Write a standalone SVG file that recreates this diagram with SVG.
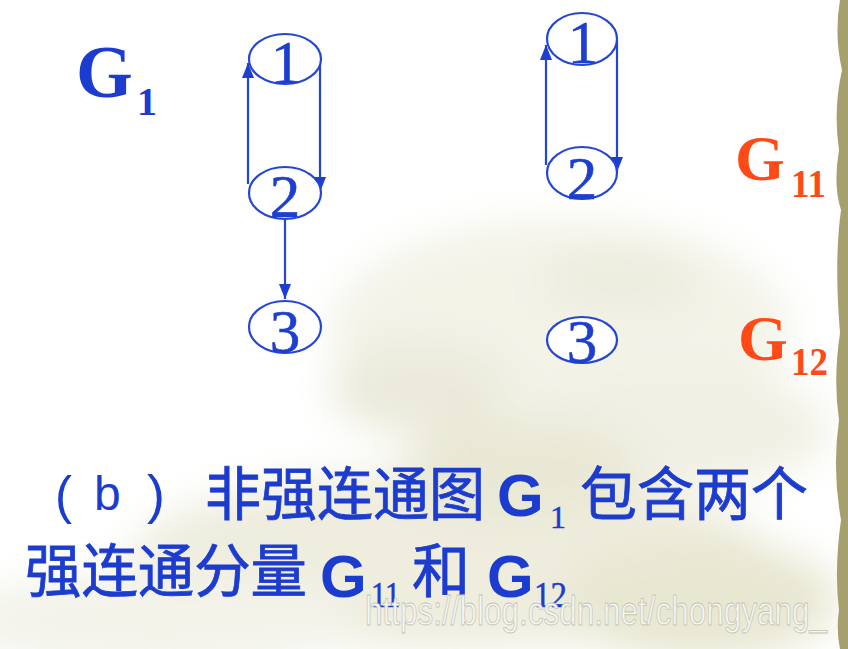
<svg xmlns="http://www.w3.org/2000/svg" width="848" height="649" viewBox="0 0 848 649">
<defs>
<style>
.node ellipse{fill:#fff;stroke:#2446d6;stroke-width:2.2}
.num{font-family:"Liberation Serif",serif;font-size:61px;fill:#1d3fd0;stroke:#1d3fd0;stroke-width:0.6;text-anchor:middle}
.edge{stroke:#2446d6;stroke-width:2.2;fill:none}
.lbl{font-family:"Liberation Serif",serif;font-weight:bold}
.blue{fill:#1c3ccf}
.red{fill:#ff4a18}
.cjk{font-family:"Noto Sans CJK SC","Noto Sans",sans-serif;font-size:58px;fill:#1c3ccf;stroke:#1c3ccf;stroke-width:0.8}
.gs{font-family:"Liberation Sans",sans-serif;font-weight:bold;font-size:60px;fill:#1c3ccf}
.sub{font-family:"Liberation Serif",serif;fill:#1c3ccf;stroke:#1c3ccf;stroke-width:0.5}
.par{font-family:"Liberation Sans",sans-serif;fill:#1c3ccf}
.wm{font-family:"Liberation Sans",sans-serif;font-size:40px;fill:#f6f6f2;stroke:#c4c4b4;stroke-width:0.8}
</style>
<marker id="ah" viewBox="0 0 15 12" refX="15" refY="6" markerWidth="15" markerHeight="12" markerUnits="userSpaceOnUse" orient="auto">
<path d="M0,0 L15,6 L0,12 z" fill="#1d3fd0"/>
</marker>
<filter id="blur" x="-30%" y="-30%" width="160%" height="160%"><feGaussianBlur stdDeviation="20"/></filter>
</defs>
<rect width="848" height="649" fill="#ffffff"/>
<g id="background" filter="url(#blur)">
<ellipse cx="560" cy="330" rx="230" ry="110" fill="#f3f3e8"/>
<ellipse cx="420" cy="390" rx="90" ry="45" fill="#ebeada"/>
<ellipse cx="620" cy="280" rx="80" ry="35" fill="#eeeddf"/>
<ellipse cx="680" cy="430" rx="150" ry="60" fill="#f1f0e4"/>
<ellipse cx="450" cy="560" rx="320" ry="90" fill="#eeedde"/>
<ellipse cx="160" cy="620" rx="200" ry="50" fill="#f3f3ea"/>
<ellipse cx="700" cy="600" rx="140" ry="60" fill="#e8e7d2"/>
<ellipse cx="520" cy="470" rx="120" ry="50" fill="#e9e8d5"/>
</g>
<path id="border" d="M848,0 L840,0 Q834,35 842,70 Q833,110 839,150 Q833,185 841,210 Q834,260 840,333 Q833,380 839,420 Q832,470 841,520 Q834,570 839,610 Q836,630 840,649 L848,649 z" fill="#a6a06e"/>
<g id="connectors">
<line class="edge" x1="248" y1="184" x2="248" y2="63" marker-end="url(#ah)"/>
<line class="edge" x1="320" y1="58" x2="320" y2="192" marker-end="url(#ah)"/>
<line class="edge" x1="285" y1="219" x2="285" y2="299" marker-end="url(#ah)"/>
<line class="edge" x1="546" y1="165" x2="546" y2="45" marker-end="url(#ah)"/>
<line class="edge" x1="617" y1="40" x2="617" y2="172" marker-end="url(#ah)"/>
</g>
<g id="g1-n1" class="node"><ellipse cx="285" cy="59" rx="36" ry="25"/><text class="num" x="286" y="83">1</text></g>
<g id="g1-n2" class="node"><ellipse cx="285" cy="193" rx="36" ry="26"/><text class="num" x="285" y="217">2</text></g>
<g id="g1-n3" class="node"><ellipse cx="285" cy="327" rx="36" ry="26"/><text class="num" x="285" y="352">3</text></g>
<g id="g11-n1" class="node"><ellipse cx="582" cy="39" rx="35" ry="26"/><text class="num" x="583" y="63">1</text></g>
<g id="g11-n2" class="node"><ellipse cx="582" cy="173" rx="35" ry="26"/><text class="num" x="582" y="199">2</text></g>
<g id="g12-n3" class="node"><ellipse cx="582" cy="340" rx="35" ry="23"/><text class="num" x="582" y="362">3</text></g>
<g id="labels">
<text class="lbl blue" x="76" y="97" font-size="73">G</text>
<text class="lbl blue" x="137" y="115" font-size="40">1</text>
<text class="lbl red" x="735" y="180" font-size="64">G</text>
<text class="lbl red" x="791" y="197" font-size="39" textLength="35" lengthAdjust="spacingAndGlyphs">11</text>
<text class="lbl red" x="738" y="360" font-size="64">G</text>
<text class="lbl red" x="791" y="375" font-size="39" textLength="37" lengthAdjust="spacingAndGlyphs">12</text>
</g>
<g id="caption">
<text class="par" font-size="51" x="55" y="513">(</text>
<text class="par" font-size="48" x="94" y="510">b</text>
<text class="par" font-size="54" x="147" y="513">)</text>
<text class="cjk" x="205" y="515" textLength="280" lengthAdjust="spacingAndGlyphs">非强连通图</text>
<text class="gs" x="497" y="516">G</text>
<text class="sub" font-size="32" x="550" y="528">1</text>
<text class="cjk" x="580" y="515" textLength="228" lengthAdjust="spacingAndGlyphs">包含两个</text>
<text class="cjk" x="25" y="592" textLength="282" lengthAdjust="spacingAndGlyphs">强连通分量</text>
<text class="gs" x="320" y="597">G</text>
<text class="sub" font-size="35" x="371" y="607" textLength="29" lengthAdjust="spacingAndGlyphs">11</text>
<text class="cjk" x="412" y="592">和</text>
<text class="gs" x="487" y="597">G</text>
<text class="sub" font-size="35" x="534" y="607" textLength="33" lengthAdjust="spacingAndGlyphs">12</text>
</g>
<text id="watermark" class="wm" x="365" y="625" textLength="462" lengthAdjust="spacingAndGlyphs">https://blog.csdn.net/chongyang_</text>
</svg>
